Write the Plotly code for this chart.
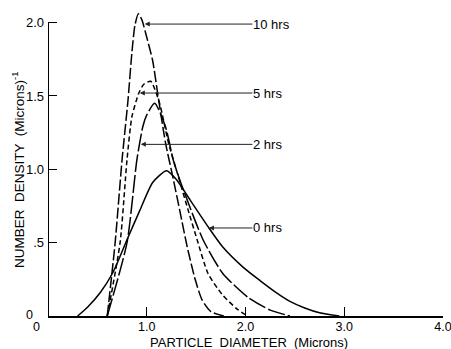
import plotly.graph_objects as go

# ---- data ----
x_0h = [0.30, 0.40, 0.53, 0.66, 0.80, 0.93, 1.06, 1.20, 1.30, 1.44, 1.63, 1.77, 1.98, 2.15, 2.30, 2.45, 2.60, 2.75, 2.95]
y_0h = [0.00, 0.06, 0.16, 0.30, 0.52, 0.72, 0.91, 0.99, 0.93, 0.79, 0.60, 0.47, 0.33, 0.24, 0.165, 0.10, 0.055, 0.022, 0.00]

x_2h = [0.60, 0.80, 0.90, 0.96, 1.00, 1.08, 1.19, 1.27, 1.36, 1.57, 1.77, 2.02, 2.25, 2.45]
y_2h = [0.00, 0.50, 1.065, 1.29, 1.37, 1.45, 1.29, 1.06, 0.88, 0.52, 0.29, 0.13, 0.04, 0.00]

x_5h = [0.60, 0.73, 0.80, 0.85, 0.92, 0.97, 1.04, 1.13, 1.22, 1.32, 1.42, 1.51, 1.62, 1.76, 1.91, 2.02]
y_5h = [0.00, 0.50, 1.065, 1.36, 1.52, 1.58, 1.60, 1.45, 1.18, 0.95, 0.72, 0.52, 0.29, 0.15, 0.05, 0.00]

x_10h = [0.60, 0.68, 0.75, 0.81, 0.85, 0.88, 0.915, 0.95, 1.00, 1.06, 1.11, 1.19, 1.27, 1.34, 1.41, 1.49, 1.56, 1.65, 1.78]
y_10h = [0.00, 0.50, 1.065, 1.47, 1.80, 1.98, 2.06, 2.02, 1.90, 1.74, 1.52, 1.18, 0.93, 0.70, 0.47, 0.25, 0.11, 0.03, 0.00]

labels = ["10 hrs", "5 hrs", "2 hrs", "0 hrs"]
label_y = [1.99, 1.52, 1.17, 0.60]
label_head_x = [0.98, 0.93, 0.94, 1.63]

y_tickvals = [0.5, 1.0, 1.5, 2.0]
y_ticktext = [".5", "1.0", "1.5", "2.0"]
x_tickvals = [1, 2, 3, 4]
x_ticktext = ["1.0", "2.0", "3.0", "4.0"]

FONT = "Liberation Sans, Arial, sans-serif"
L, R, T, B = 48, 8, 5, 33
W, H = 451 - L - R, 349 - T - B


def px_to_paper(px, py):
    return (px - L) / W, (349 - B - py) / H


fig = go.Figure()
series = [
    (x_0h, y_0h, "solid"),
    (x_2h, y_2h, "18px,3px"),
    (x_5h, y_5h, "5px,3px"),
    (x_10h, y_10h, "11px,3px"),
]
for xs, ys, dash in series:
    fig.add_trace(go.Scatter(x=xs, y=ys, mode="lines",
                             line=dict(color="black", width=1.5, dash=dash,
                                       shape="spline", smoothing=0.6),
                             showlegend=False, hoverinfo="skip"))

# y-axis line only up to 2.0
fig.add_shape(type="line", x0=0, x1=0, y0=0, y1=2.0, xref="x", yref="y",
              line=dict(color="black", width=2))

tail_x = 2.07
for lab, ly, hx in zip(labels, label_y, label_head_x):
    fig.add_annotation(x=hx, y=ly, ax=tail_x, ay=ly, axref="x", ayref="y",
                       xref="x", yref="y", text=lab, showarrow=True,
                       xanchor="left", yanchor="middle", borderpad=0,
                       arrowhead=2, arrowsize=1, arrowwidth=1, arrowcolor="#222",
                       font=dict(family=FONT, size=13, color="black"))

# zero labels and axis titles
for (px, py) in [(29, 315), (36, 327)]:
    zx, zy = px_to_paper(px, py)
    fig.add_annotation(x=zx, y=zy, xref="paper", yref="paper", text="0", showarrow=False,
                       xanchor="center", yanchor="middle",
                       font=dict(family=FONT, size=12.5, color="black"))
tx, ty = px_to_paper(249, 342)
fig.add_annotation(x=tx, y=ty, xref="paper", yref="paper",
                   text="PARTICLE  DIAMETER  (Microns)", showarrow=False,
                   xanchor="center", yanchor="middle",
                   font=dict(family=FONT, size=13, color="black"))
tx, ty = px_to_paper(18, 170)
fig.add_annotation(x=tx, y=ty, xref="paper", yref="paper", textangle=-90,
                   text="NUMBER  DENSITY  (Microns)<sup>-1</sup>", showarrow=False,
                   xanchor="center", yanchor="middle",
                   font=dict(family=FONT, size=13.5, color="black"))

fig.update_layout(
    width=451, height=349,
    margin=dict(l=L, r=R, t=T, b=B, autoexpand=False),
    paper_bgcolor="white", plot_bgcolor="white",
    font=dict(family=FONT, size=13, color="black"),
    xaxis=dict(range=[0, 4], tickvals=x_tickvals, ticktext=x_ticktext,
               ticks="inside", ticklen=9, tickwidth=1, tickcolor="black",
               showline=True, linecolor="black", linewidth=2,
               showgrid=False, zeroline=False, fixedrange=True, automargin=False,
               ticklabeloverflow="allow", ticklabelstandoff=-2,
               tickfont=dict(family=FONT, size=12.5)),
    yaxis=dict(range=[0, 2.12], tickvals=y_tickvals, ticktext=y_ticktext,
               ticks="inside", ticklen=9, tickwidth=1, tickcolor="black",
               showline=False, showgrid=False, zeroline=False, fixedrange=True,
               automargin=False, ticklabeloverflow="allow", ticklabelstandoff=3,
               tickfont=dict(family=FONT, size=13)),
)

fig.write_html("out.html", config={"displayModeBar": False},
               post_script="document.body.style.margin='0';document.body.style.padding='0';document.body.style.overflow='hidden';")
